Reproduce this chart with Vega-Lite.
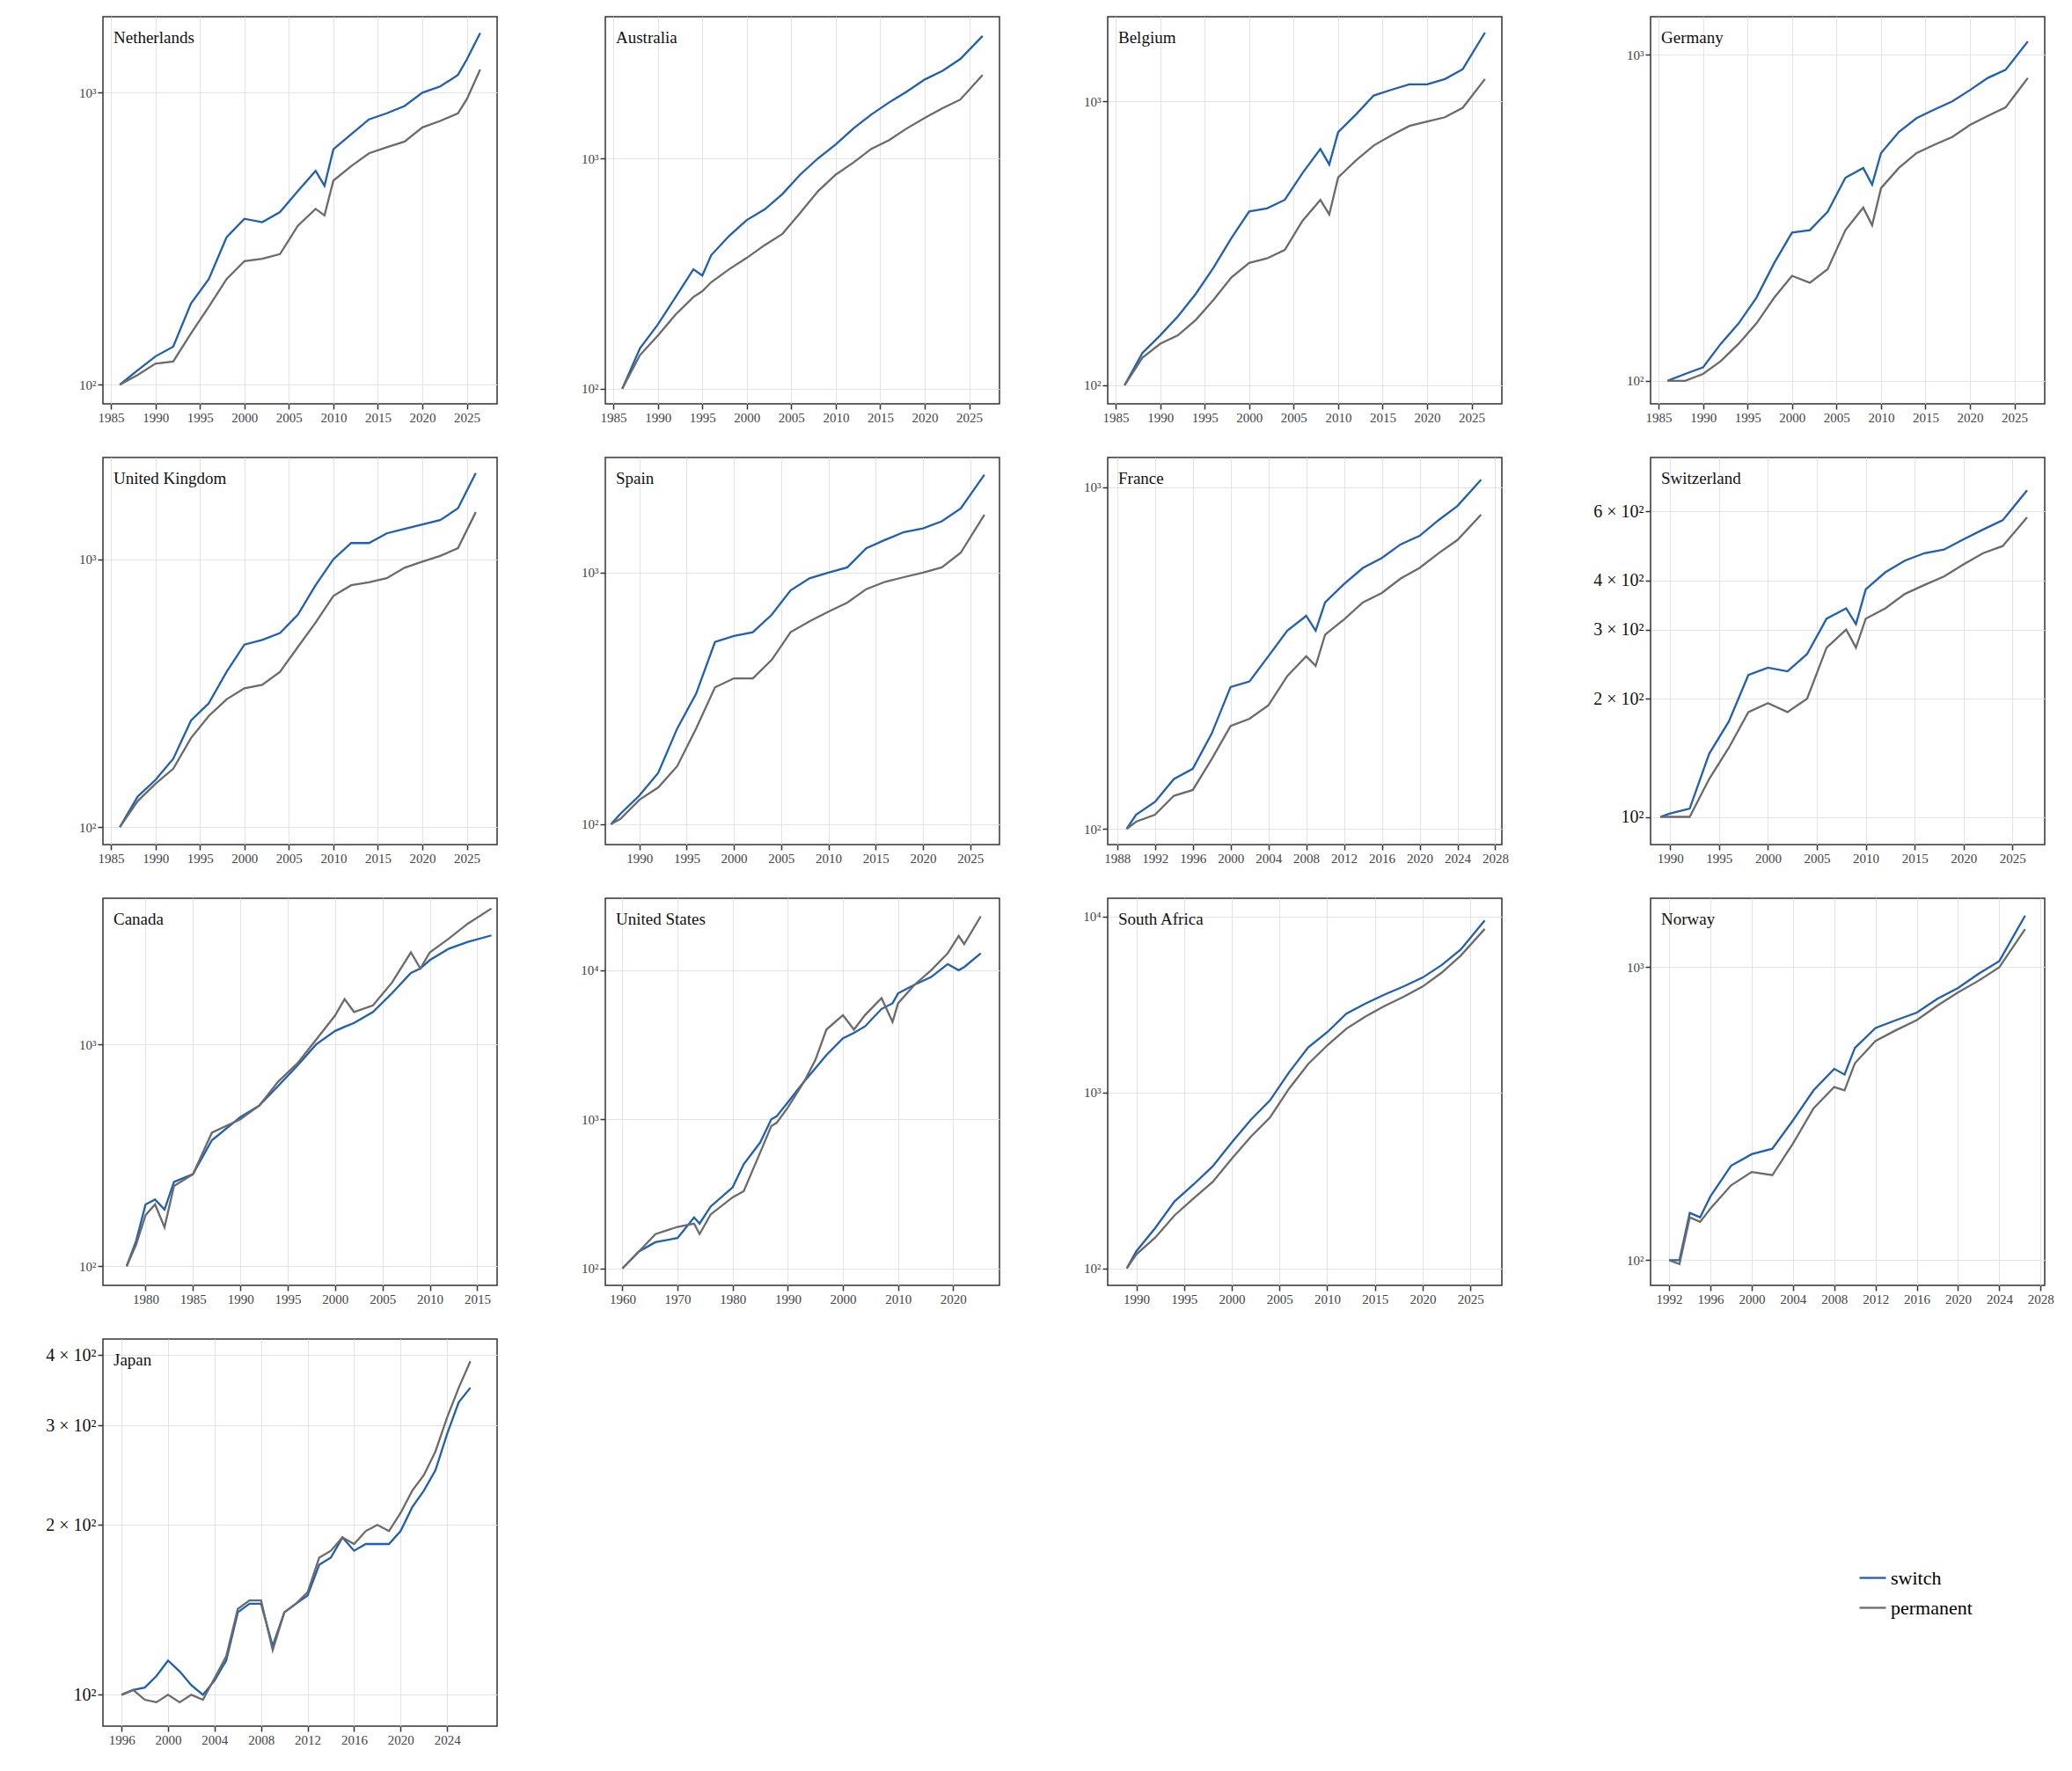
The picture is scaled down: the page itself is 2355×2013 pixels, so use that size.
{
"$schema":"https://vega.github.io/schema/vega-lite/v6.json",
"background":"white",
"padding":{"left":50,"top":18,"right":10,"bottom":10},
"config":{
 "view":{"continuousWidth":448,"continuousHeight":440,"stroke":"#333","strokeWidth":1.5},
 "font":"Liberation Serif",
 "title":{"font":"Liberation Serif","fontSize":19,"fontWeight":"normal","anchor":"start","frame":"group","offset":-34,"dx":12,"color":"#111"},
 "axis":{"labelFont":"Liberation Serif","labelFontSize":15,"labelColor":"#444","gridColor":"#e3e3e3","gridWidth":1,"domain":false,"tickColor":"#333","tickWidth":1.5,"tickSize":6,"title":null},
 "line":{"strokeWidth":2.3},
 "legend":{"orient":"none","legendX":1995,"legendY":1758,"labelFont":"Liberation Serif","labelFontSize":22,"symbolType":"stroke","symbolStrokeWidth":2.5,"symbolSize":900,"rowPadding":6}
},
"spacing":{"row":36,"column":93},
"columns":4,
"data":{"values":[
{"c":"NL","t":1986,"switch":100,"permanent":100},{"c":"NL","t":1988,"switch":112,"permanent":108},{"c":"NL","t":1990,"switch":125,"permanent":118},{"c":"NL","t":1992,"switch":135,"permanent":120},{"c":"NL","t":1994,"switch":190,"permanent":150},{"c":"NL","t":1996,"switch":230,"permanent":185},{"c":"NL","t":1998,"switch":320,"permanent":230},{"c":"NL","t":2000,"switch":370,"permanent":265},{"c":"NL","t":2002,"switch":360,"permanent":270},{"c":"NL","t":2004,"switch":390,"permanent":280},{"c":"NL","t":2006,"switch":460,"permanent":350},{"c":"NL","t":2008,"switch":540,"permanent":400},{"c":"NL","t":2009,"switch":480,"permanent":380},{"c":"NL","t":2010,"switch":640,"permanent":500},{"c":"NL","t":2012,"switch":720,"permanent":560},{"c":"NL","t":2014,"switch":810,"permanent":620},{"c":"NL","t":2016,"switch":850,"permanent":650},{"c":"NL","t":2018,"switch":900,"permanent":680},{"c":"NL","t":2020,"switch":1000,"permanent":760},{"c":"NL","t":2022,"switch":1050,"permanent":800},{"c":"NL","t":2024,"switch":1150,"permanent":850},{"c":"NL","t":2025,"switch":1300,"permanent":950},{"c":"NL","t":2026.5,"switch":1600,"permanent":1200},
{"c":"AU","t":1986,"switch":100,"permanent":100},{"c":"AU","t":1988,"switch":150,"permanent":140},{"c":"AU","t":1990,"switch":190,"permanent":170},{"c":"AU","t":1992,"switch":250,"permanent":210},{"c":"AU","t":1994,"switch":330,"permanent":250},{"c":"AU","t":1995,"switch":310,"permanent":265},{"c":"AU","t":1996,"switch":380,"permanent":290},{"c":"AU","t":1998,"switch":460,"permanent":330},{"c":"AU","t":2000,"switch":540,"permanent":370},{"c":"AU","t":2002,"switch":600,"permanent":420},{"c":"AU","t":2004,"switch":700,"permanent":470},{"c":"AU","t":2006,"switch":850,"permanent":580},{"c":"AU","t":2008,"switch":1000,"permanent":720},{"c":"AU","t":2010,"switch":1150,"permanent":850},{"c":"AU","t":2012,"switch":1350,"permanent":960},{"c":"AU","t":2014,"switch":1550,"permanent":1100},{"c":"AU","t":2016,"switch":1750,"permanent":1200},{"c":"AU","t":2018,"switch":1950,"permanent":1350},{"c":"AU","t":2020,"switch":2200,"permanent":1500},{"c":"AU","t":2022,"switch":2400,"permanent":1650},{"c":"AU","t":2024,"switch":2700,"permanent":1800},{"c":"AU","t":2026.5,"switch":3400,"permanent":2300},
{"c":"BE","t":1986,"switch":100,"permanent":100},{"c":"BE","t":1988,"switch":130,"permanent":125},{"c":"BE","t":1990,"switch":150,"permanent":140},{"c":"BE","t":1992,"switch":175,"permanent":150},{"c":"BE","t":1994,"switch":210,"permanent":170},{"c":"BE","t":1996,"switch":260,"permanent":200},{"c":"BE","t":1998,"switch":330,"permanent":240},{"c":"BE","t":2000,"switch":410,"permanent":270},{"c":"BE","t":2002,"switch":420,"permanent":280},{"c":"BE","t":2004,"switch":450,"permanent":300},{"c":"BE","t":2006,"switch":560,"permanent":380},{"c":"BE","t":2008,"switch":680,"permanent":450},{"c":"BE","t":2009,"switch":600,"permanent":400},{"c":"BE","t":2010,"switch":780,"permanent":540},{"c":"BE","t":2012,"switch":900,"permanent":620},{"c":"BE","t":2014,"switch":1050,"permanent":700},{"c":"BE","t":2016,"switch":1100,"permanent":760},{"c":"BE","t":2018,"switch":1150,"permanent":820},{"c":"BE","t":2020,"switch":1150,"permanent":850},{"c":"BE","t":2022,"switch":1200,"permanent":880},{"c":"BE","t":2024,"switch":1300,"permanent":950},{"c":"BE","t":2026.5,"switch":1750,"permanent":1200},
{"c":"DE","t":1986,"switch":100,"permanent":100},{"c":"DE","t":1988,"switch":105,"permanent":100},{"c":"DE","t":1990,"switch":110,"permanent":105},{"c":"DE","t":1992,"switch":130,"permanent":115},{"c":"DE","t":1994,"switch":150,"permanent":130},{"c":"DE","t":1996,"switch":180,"permanent":150},{"c":"DE","t":1998,"switch":230,"permanent":180},{"c":"DE","t":2000,"switch":285,"permanent":210},{"c":"DE","t":2002,"switch":290,"permanent":200},{"c":"DE","t":2004,"switch":330,"permanent":220},{"c":"DE","t":2006,"switch":420,"permanent":290},{"c":"DE","t":2008,"switch":450,"permanent":340},{"c":"DE","t":2009,"switch":400,"permanent":300},{"c":"DE","t":2010,"switch":500,"permanent":390},{"c":"DE","t":2012,"switch":580,"permanent":450},{"c":"DE","t":2014,"switch":640,"permanent":500},{"c":"DE","t":2016,"switch":680,"permanent":530},{"c":"DE","t":2018,"switch":720,"permanent":560},{"c":"DE","t":2020,"switch":780,"permanent":610},{"c":"DE","t":2022,"switch":850,"permanent":650},{"c":"DE","t":2024,"switch":900,"permanent":690},{"c":"DE","t":2026.5,"switch":1100,"permanent":850},
{"c":"UK","t":1986,"switch":100,"permanent":100},{"c":"UK","t":1988,"switch":130,"permanent":125},{"c":"UK","t":1990,"switch":150,"permanent":145},{"c":"UK","t":1992,"switch":180,"permanent":165},{"c":"UK","t":1994,"switch":250,"permanent":215},{"c":"UK","t":1996,"switch":290,"permanent":260},{"c":"UK","t":1998,"switch":380,"permanent":300},{"c":"UK","t":2000,"switch":480,"permanent":330},{"c":"UK","t":2002,"switch":500,"permanent":340},{"c":"UK","t":2004,"switch":530,"permanent":380},{"c":"UK","t":2006,"switch":620,"permanent":470},{"c":"UK","t":2008,"switch":800,"permanent":580},{"c":"UK","t":2010,"switch":1000,"permanent":730},{"c":"UK","t":2012,"switch":1150,"permanent":800},{"c":"UK","t":2014,"switch":1150,"permanent":820},{"c":"UK","t":2016,"switch":1250,"permanent":850},{"c":"UK","t":2018,"switch":1300,"permanent":930},{"c":"UK","t":2020,"switch":1350,"permanent":980},{"c":"UK","t":2022,"switch":1400,"permanent":1030},{"c":"UK","t":2024,"switch":1550,"permanent":1100},{"c":"UK","t":2026,"switch":2100,"permanent":1500},
{"c":"ES","t":1987,"switch":100,"permanent":100},{"c":"ES","t":1988,"switch":110,"permanent":105},{"c":"ES","t":1990,"switch":130,"permanent":125},{"c":"ES","t":1992,"switch":160,"permanent":140},{"c":"ES","t":1994,"switch":240,"permanent":170},{"c":"ES","t":1996,"switch":330,"permanent":240},{"c":"ES","t":1998,"switch":530,"permanent":350},{"c":"ES","t":2000,"switch":560,"permanent":380},{"c":"ES","t":2002,"switch":580,"permanent":380},{"c":"ES","t":2004,"switch":680,"permanent":450},{"c":"ES","t":2006,"switch":850,"permanent":580},{"c":"ES","t":2008,"switch":950,"permanent":640},{"c":"ES","t":2010,"switch":1000,"permanent":700},{"c":"ES","t":2012,"switch":1050,"permanent":760},{"c":"ES","t":2014,"switch":1250,"permanent":860},{"c":"ES","t":2016,"switch":1350,"permanent":920},{"c":"ES","t":2018,"switch":1450,"permanent":960},{"c":"ES","t":2020,"switch":1500,"permanent":1000},{"c":"ES","t":2022,"switch":1600,"permanent":1050},{"c":"ES","t":2024,"switch":1800,"permanent":1200},{"c":"ES","t":2026.5,"switch":2450,"permanent":1700},
{"c":"FR","t":1989,"switch":100,"permanent":100},{"c":"FR","t":1990,"switch":110,"permanent":105},{"c":"FR","t":1992,"switch":120,"permanent":110},{"c":"FR","t":1994,"switch":140,"permanent":125},{"c":"FR","t":1996,"switch":150,"permanent":130},{"c":"FR","t":1998,"switch":190,"permanent":160},{"c":"FR","t":2000,"switch":260,"permanent":200},{"c":"FR","t":2002,"switch":270,"permanent":210},{"c":"FR","t":2004,"switch":320,"permanent":230},{"c":"FR","t":2006,"switch":380,"permanent":280},{"c":"FR","t":2008,"switch":420,"permanent":320},{"c":"FR","t":2009,"switch":380,"permanent":300},{"c":"FR","t":2010,"switch":460,"permanent":370},{"c":"FR","t":2012,"switch":520,"permanent":410},{"c":"FR","t":2014,"switch":580,"permanent":460},{"c":"FR","t":2016,"switch":620,"permanent":490},{"c":"FR","t":2018,"switch":680,"permanent":540},{"c":"FR","t":2020,"switch":720,"permanent":580},{"c":"FR","t":2022,"switch":800,"permanent":640},{"c":"FR","t":2024,"switch":880,"permanent":700},{"c":"FR","t":2026.5,"switch":1050,"permanent":830},
{"c":"CH","t":1989,"switch":100,"permanent":100},{"c":"CH","t":1990,"switch":102,"permanent":100},{"c":"CH","t":1992,"switch":105,"permanent":100},{"c":"CH","t":1994,"switch":145,"permanent":125},{"c":"CH","t":1996,"switch":175,"permanent":150},{"c":"CH","t":1998,"switch":230,"permanent":185},{"c":"CH","t":2000,"switch":240,"permanent":195},{"c":"CH","t":2002,"switch":235,"permanent":185},{"c":"CH","t":2004,"switch":260,"permanent":200},{"c":"CH","t":2006,"switch":320,"permanent":270},{"c":"CH","t":2008,"switch":340,"permanent":300},{"c":"CH","t":2009,"switch":310,"permanent":270},{"c":"CH","t":2010,"switch":380,"permanent":320},{"c":"CH","t":2012,"switch":420,"permanent":340},{"c":"CH","t":2014,"switch":450,"permanent":370},{"c":"CH","t":2016,"switch":470,"permanent":390},{"c":"CH","t":2018,"switch":480,"permanent":410},{"c":"CH","t":2020,"switch":510,"permanent":440},{"c":"CH","t":2022,"switch":540,"permanent":470},{"c":"CH","t":2024,"switch":570,"permanent":490},{"c":"CH","t":2026.5,"switch":680,"permanent":580},
{"c":"CA","t":1978,"switch":100,"permanent":100},{"c":"CA","t":1979,"switch":130,"permanent":125},{"c":"CA","t":1980,"switch":190,"permanent":170},{"c":"CA","t":1981,"switch":200,"permanent":190},{"c":"CA","t":1982,"switch":180,"permanent":150},{"c":"CA","t":1983,"switch":240,"permanent":230},{"c":"CA","t":1985,"switch":260,"permanent":260},{"c":"CA","t":1987,"switch":370,"permanent":400},{"c":"CA","t":1990,"switch":470,"permanent":460},{"c":"CA","t":1992,"switch":530,"permanent":530},{"c":"CA","t":1994,"switch":650,"permanent":680},{"c":"CA","t":1996,"switch":800,"permanent":820},{"c":"CA","t":1998,"switch":1000,"permanent":1050},{"c":"CA","t":2000,"switch":1150,"permanent":1350},{"c":"CA","t":2001,"switch":1200,"permanent":1600},{"c":"CA","t":2002,"switch":1250,"permanent":1400},{"c":"CA","t":2004,"switch":1400,"permanent":1500},{"c":"CA","t":2006,"switch":1700,"permanent":1900},{"c":"CA","t":2008,"switch":2100,"permanent":2600},{"c":"CA","t":2009,"switch":2200,"permanent":2200},{"c":"CA","t":2010,"switch":2400,"permanent":2600},{"c":"CA","t":2012,"switch":2700,"permanent":3000},{"c":"CA","t":2014,"switch":2900,"permanent":3500},{"c":"CA","t":2016.5,"switch":3100,"permanent":4100},
{"c":"US","t":1960,"switch":100,"permanent":100},{"c":"US","t":1963,"switch":130,"permanent":130},{"c":"US","t":1966,"switch":150,"permanent":170},{"c":"US","t":1970,"switch":160,"permanent":190},{"c":"US","t":1973,"switch":220,"permanent":200},{"c":"US","t":1974,"switch":200,"permanent":170},{"c":"US","t":1976,"switch":260,"permanent":230},{"c":"US","t":1980,"switch":350,"permanent":300},{"c":"US","t":1982,"switch":500,"permanent":330},{"c":"US","t":1985,"switch":700,"permanent":600},{"c":"US","t":1987,"switch":1000,"permanent":900},{"c":"US","t":1988,"switch":1050,"permanent":950},{"c":"US","t":1990,"switch":1300,"permanent":1200},{"c":"US","t":1993,"switch":1800,"permanent":1800},{"c":"US","t":1995,"switch":2200,"permanent":2500},{"c":"US","t":1997,"switch":2700,"permanent":4000},{"c":"US","t":2000,"switch":3500,"permanent":5000},{"c":"US","t":2002,"switch":3800,"permanent":4000},{"c":"US","t":2004,"switch":4200,"permanent":5000},{"c":"US","t":2007,"switch":5500,"permanent":6500},{"c":"US","t":2009,"switch":6000,"permanent":4500},{"c":"US","t":2010,"switch":7000,"permanent":6000},{"c":"US","t":2013,"switch":8000,"permanent":8000},{"c":"US","t":2016,"switch":9000,"permanent":10000},{"c":"US","t":2019,"switch":11000,"permanent":13000},{"c":"US","t":2021,"switch":10000,"permanent":17000},{"c":"US","t":2022,"switch":10500,"permanent":15000},{"c":"US","t":2025,"switch":13000,"permanent":23000},
{"c":"ZA","t":1989,"switch":100,"permanent":100},{"c":"ZA","t":1990,"switch":125,"permanent":120},{"c":"ZA","t":1992,"switch":170,"permanent":150},{"c":"ZA","t":1994,"switch":240,"permanent":200},{"c":"ZA","t":1996,"switch":300,"permanent":250},{"c":"ZA","t":1998,"switch":380,"permanent":310},{"c":"ZA","t":2000,"switch":520,"permanent":420},{"c":"ZA","t":2002,"switch":700,"permanent":560},{"c":"ZA","t":2004,"switch":900,"permanent":720},{"c":"ZA","t":2006,"switch":1300,"permanent":1050},{"c":"ZA","t":2008,"switch":1800,"permanent":1450},{"c":"ZA","t":2010,"switch":2200,"permanent":1850},{"c":"ZA","t":2012,"switch":2800,"permanent":2300},{"c":"ZA","t":2014,"switch":3200,"permanent":2700},{"c":"ZA","t":2016,"switch":3600,"permanent":3100},{"c":"ZA","t":2018,"switch":4000,"permanent":3500},{"c":"ZA","t":2020,"switch":4500,"permanent":4000},{"c":"ZA","t":2022,"switch":5300,"permanent":4800},{"c":"ZA","t":2024,"switch":6500,"permanent":6000},{"c":"ZA","t":2026.5,"switch":9500,"permanent":8500},
{"c":"NO","t":1992,"switch":100,"permanent":100},{"c":"NO","t":1993,"switch":100,"permanent":97},{"c":"NO","t":1994,"switch":145,"permanent":140},{"c":"NO","t":1995,"switch":140,"permanent":135},{"c":"NO","t":1996,"switch":165,"permanent":150},{"c":"NO","t":1998,"switch":210,"permanent":180},{"c":"NO","t":2000,"switch":230,"permanent":200},{"c":"NO","t":2002,"switch":240,"permanent":195},{"c":"NO","t":2004,"switch":300,"permanent":250},{"c":"NO","t":2006,"switch":380,"permanent":330},{"c":"NO","t":2008,"switch":450,"permanent":390},{"c":"NO","t":2009,"switch":430,"permanent":380},{"c":"NO","t":2010,"switch":530,"permanent":470},{"c":"NO","t":2012,"switch":620,"permanent":560},{"c":"NO","t":2014,"switch":660,"permanent":610},{"c":"NO","t":2016,"switch":700,"permanent":660},{"c":"NO","t":2018,"switch":780,"permanent":740},{"c":"NO","t":2020,"switch":850,"permanent":820},{"c":"NO","t":2022,"switch":950,"permanent":900},{"c":"NO","t":2024,"switch":1050,"permanent":1000},{"c":"NO","t":2026.5,"switch":1500,"permanent":1350},
{"c":"JP","t":1996,"switch":100,"permanent":100},{"c":"JP","t":1997,"switch":102,"permanent":102},{"c":"JP","t":1998,"switch":103,"permanent":98},{"c":"JP","t":1999,"switch":108,"permanent":97},{"c":"JP","t":2000,"switch":115,"permanent":100},{"c":"JP","t":2001,"switch":110,"permanent":97},{"c":"JP","t":2002,"switch":104,"permanent":100},{"c":"JP","t":2003,"switch":100,"permanent":98},{"c":"JP","t":2004,"switch":106,"permanent":107},{"c":"JP","t":2005,"switch":115,"permanent":117},{"c":"JP","t":2006,"switch":140,"permanent":142},{"c":"JP","t":2007,"switch":145,"permanent":147},{"c":"JP","t":2008,"switch":145,"permanent":147},{"c":"JP","t":2009,"switch":122,"permanent":120},{"c":"JP","t":2010,"switch":140,"permanent":140},{"c":"JP","t":2011,"switch":145,"permanent":145},{"c":"JP","t":2012,"switch":150,"permanent":152},{"c":"JP","t":2013,"switch":170,"permanent":175},{"c":"JP","t":2014,"switch":175,"permanent":180},{"c":"JP","t":2015,"switch":190,"permanent":190},{"c":"JP","t":2016,"switch":180,"permanent":185},{"c":"JP","t":2017,"switch":185,"permanent":195},{"c":"JP","t":2018,"switch":185,"permanent":200},{"c":"JP","t":2019,"switch":185,"permanent":195},{"c":"JP","t":2020,"switch":195,"permanent":210},{"c":"JP","t":2021,"switch":215,"permanent":230},{"c":"JP","t":2022,"switch":230,"permanent":245},{"c":"JP","t":2023,"switch":250,"permanent":270},{"c":"JP","t":2024,"switch":290,"permanent":310},{"c":"JP","t":2025,"switch":330,"permanent":350},{"c":"JP","t":2026,"switch":350,"permanent":390}
]},
"concat":[
{"title":"Netherlands","transform":[{"filter":"datum.c=='NL'"},{"fold":["switch","permanent"],"as":["s","v"]}],"mark":"line","encoding":{"x":{"field":"t","type":"quantitative","scale":{"domain":[1984.1,2028.4],"nice":false,"zero":false},"axis":{"values":[1985,1990,1995,2000,2005,2010,2015,2020,2025],"format":"d"}},"y":{"field":"v","type":"quantitative","scale":{"type":"log","domain":[86,1820],"nice":false},"axis":{"values":[100,1000],"labelExpr":"datum.value==100?'10²':'10³'"}},"color":{"field":"s","type":"nominal","scale":{"domain":["switch","permanent"],"range":["#1f5fb4","#6b6b6b"]},"legend":{"title":null}}}},
{"title":"Australia","transform":[{"filter":"datum.c=='AU'"},{"fold":["switch","permanent"],"as":["s","v"]}],"mark":"line","encoding":{"x":{"field":"t","type":"quantitative","scale":{"domain":[1984.1,2028.4],"nice":false,"zero":false},"axis":{"values":[1985,1990,1995,2000,2005,2010,2015,2020,2025],"format":"d"}},"y":{"field":"v","type":"quantitative","scale":{"type":"log","domain":[86,4120],"nice":false},"axis":{"values":[100,1000],"labelExpr":"datum.value==100?'10²':'10³'"}},"color":{"field":"s","type":"nominal","scale":{"domain":["switch","permanent"],"range":["#1f5fb4","#6b6b6b"]},"legend":{"title":null}}}},
{"title":"Belgium","transform":[{"filter":"datum.c=='BE'"},{"fold":["switch","permanent"],"as":["s","v"]}],"mark":"line","encoding":{"x":{"field":"t","type":"quantitative","scale":{"domain":[1984.1,2028.4],"nice":false,"zero":false},"axis":{"values":[1985,1990,1995,2000,2005,2010,2015,2020,2025],"format":"d"}},"y":{"field":"v","type":"quantitative","scale":{"type":"log","domain":[86,1990],"nice":false},"axis":{"values":[100,1000],"labelExpr":"datum.value==100?'10²':'10³'"}},"color":{"field":"s","type":"nominal","scale":{"domain":["switch","permanent"],"range":["#1f5fb4","#6b6b6b"]},"legend":{"title":null}}}},
{"title":"Germany","transform":[{"filter":"datum.c=='DE'"},{"fold":["switch","permanent"],"as":["s","v"]}],"mark":"line","encoding":{"x":{"field":"t","type":"quantitative","scale":{"domain":[1984.1,2028.4],"nice":false,"zero":false},"axis":{"values":[1985,1990,1995,2000,2005,2010,2015,2020,2025],"format":"d"}},"y":{"field":"v","type":"quantitative","scale":{"type":"log","domain":[85,1310],"nice":false},"axis":{"values":[100,1000],"labelExpr":"datum.value==100?'10²':'10³'"}},"color":{"field":"s","type":"nominal","scale":{"domain":["switch","permanent"],"range":["#1f5fb4","#6b6b6b"]},"legend":{"title":null}}}},
{"title":"United Kingdom","transform":[{"filter":"datum.c=='UK'"},{"fold":["switch","permanent"],"as":["s","v"]}],"mark":"line","encoding":{"x":{"field":"t","type":"quantitative","scale":{"domain":[1984.1,2028.4],"nice":false,"zero":false},"axis":{"values":[1985,1990,1995,2000,2005,2010,2015,2020,2025],"format":"d"}},"y":{"field":"v","type":"quantitative","scale":{"type":"log","domain":[86,2400],"nice":false},"axis":{"values":[100,1000],"labelExpr":"datum.value==100?'10²':'10³'"}},"color":{"field":"s","type":"nominal","scale":{"domain":["switch","permanent"],"range":["#1f5fb4","#6b6b6b"]},"legend":{"title":null}}}},
{"title":"Spain","transform":[{"filter":"datum.c=='ES'"},{"fold":["switch","permanent"],"as":["s","v"]}],"mark":"line","encoding":{"x":{"field":"t","type":"quantitative","scale":{"domain":[1986.4,2028.1],"nice":false,"zero":false},"axis":{"values":[1990,1995,2000,2005,2010,2015,2020,2025],"format":"d"}},"y":{"field":"v","type":"quantitative","scale":{"type":"log","domain":[83,2870],"nice":false},"axis":{"values":[100,1000],"labelExpr":"datum.value==100?'10²':'10³'"}},"color":{"field":"s","type":"nominal","scale":{"domain":["switch","permanent"],"range":["#1f5fb4","#6b6b6b"]},"legend":{"title":null}}}},
{"title":"France","transform":[{"filter":"datum.c=='FR'"},{"fold":["switch","permanent"],"as":["s","v"]}],"mark":"line","encoding":{"x":{"field":"t","type":"quantitative","scale":{"domain":[1987,2028.7],"nice":false,"zero":false},"axis":{"values":[1988,1992,1996,2000,2004,2008,2012,2016,2020,2024,2028],"format":"d"}},"y":{"field":"v","type":"quantitative","scale":{"type":"log","domain":[90,1220],"nice":false},"axis":{"values":[100,1000],"labelExpr":"datum.value==100?'10²':'10³'"}},"color":{"field":"s","type":"nominal","scale":{"domain":["switch","permanent"],"range":["#1f5fb4","#6b6b6b"]},"legend":{"title":null}}}},
{"title":"Switzerland","transform":[{"filter":"datum.c=='CH'"},{"fold":["switch","permanent"],"as":["s","v"]}],"mark":"line","encoding":{"x":{"field":"t","type":"quantitative","scale":{"domain":[1988,2028.3],"nice":false,"zero":false},"axis":{"values":[1990,1995,2000,2005,2010,2015,2020,2025],"format":"d"}},"y":{"field":"v","type":"quantitative","scale":{"type":"log","domain":[85,824],"nice":false},"axis":{"values":[100,200,300,400,600],"labelFontSize":20,"labelColor":"#111","labelExpr":"datum.value==100?'10²':(datum.value/100)+' × 10²'"}},"color":{"field":"s","type":"nominal","scale":{"domain":["switch","permanent"],"range":["#1f5fb4","#6b6b6b"]},"legend":{"title":null}}}},
{"title":"Canada","transform":[{"filter":"datum.c=='CA'"},{"fold":["switch","permanent"],"as":["s","v"]}],"mark":"line","encoding":{"x":{"field":"t","type":"quantitative","scale":{"domain":[1975.5,2017.1],"nice":false,"zero":false},"axis":{"values":[1980,1985,1990,1995,2000,2005,2010,2015],"format":"d"}},"y":{"field":"v","type":"quantitative","scale":{"type":"log","domain":[82,4560],"nice":false},"axis":{"values":[100,1000],"labelExpr":"datum.value==100?'10²':'10³'"}},"color":{"field":"s","type":"nominal","scale":{"domain":["switch","permanent"],"range":["#1f5fb4","#6b6b6b"]},"legend":{"title":null}}}},
{"title":"United States","transform":[{"filter":"datum.c=='US'"},{"fold":["switch","permanent"],"as":["s","v"]}],"mark":"line","encoding":{"x":{"field":"t","type":"quantitative","scale":{"domain":[1956.9,2028.4],"nice":false,"zero":false},"axis":{"values":[1960,1970,1980,1990,2000,2010,2020],"format":"d"}},"y":{"field":"v","type":"quantitative","scale":{"type":"log","domain":[77,30400],"nice":false},"axis":{"values":[100,1000,10000],"labelExpr":"datum.value==100?'10²':datum.value==1000?'10³':'10⁴'"}},"color":{"field":"s","type":"nominal","scale":{"domain":["switch","permanent"],"range":["#1f5fb4","#6b6b6b"]},"legend":{"title":null}}}},
{"title":"South Africa","transform":[{"filter":"datum.c=='ZA'"},{"fold":["switch","permanent"],"as":["s","v"]}],"mark":"line","encoding":{"x":{"field":"t","type":"quantitative","scale":{"domain":[1987,2028.3],"nice":false,"zero":false},"axis":{"values":[1990,1995,2000,2005,2010,2015,2020,2025],"format":"d"}},"y":{"field":"v","type":"quantitative","scale":{"type":"log","domain":[80,12700],"nice":false},"axis":{"values":[100,1000,10000],"labelExpr":"datum.value==100?'10²':datum.value==1000?'10³':'10⁴'"}},"color":{"field":"s","type":"nominal","scale":{"domain":["switch","permanent"],"range":["#1f5fb4","#6b6b6b"]},"legend":{"title":null}}}},
{"title":"Norway","transform":[{"filter":"datum.c=='NO'"},{"fold":["switch","permanent"],"as":["s","v"]}],"mark":"line","encoding":{"x":{"field":"t","type":"quantitative","scale":{"domain":[1990.2,2028.4],"nice":false,"zero":false},"axis":{"values":[1992,1996,2000,2004,2008,2012,2016,2020,2024,2028],"format":"d"}},"y":{"field":"v","type":"quantitative","scale":{"type":"log","domain":[82,1720],"nice":false},"axis":{"values":[100,1000],"labelExpr":"datum.value==100?'10²':'10³'"}},"color":{"field":"s","type":"nominal","scale":{"domain":["switch","permanent"],"range":["#1f5fb4","#6b6b6b"]},"legend":{"title":null}}}},
{"title":"Japan","transform":[{"filter":"datum.c=='JP'"},{"fold":["switch","permanent"],"as":["s","v"]}],"mark":"line","encoding":{"x":{"field":"t","type":"quantitative","scale":{"domain":[1994.4,2028.3],"nice":false,"zero":false},"axis":{"values":[1996,2000,2004,2008,2012,2016,2020,2024],"format":"d"}},"y":{"field":"v","type":"quantitative","scale":{"type":"log","domain":[88,427],"nice":false},"axis":{"values":[100,200,300,400],"labelFontSize":20,"labelColor":"#111","labelExpr":"datum.value==100?'10²':(datum.value/100)+' × 10²'"}},"color":{"field":"s","type":"nominal","scale":{"domain":["switch","permanent"],"range":["#1f5fb4","#6b6b6b"]},"legend":{"title":null}}}}
]
}
